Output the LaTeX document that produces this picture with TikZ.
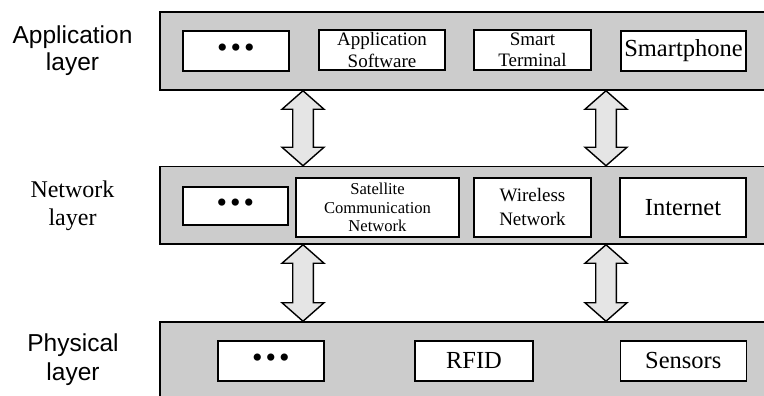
\documentclass[tikz,border=0pt]{standalone}
\usepackage{fontspec}
\setmainfont{Liberation Serif}
\newfontfamily\arialf{Liberation Sans}
\usetikzlibrary{calc,shadows}
\tikzset{
  layerbox/.style={draw=black, line width=1.5pt, fill=black!20, minimum height=78pt, inner sep=0pt},
  itembox/.style={draw=black, line width=1.3pt, fill=white, inner sep=0pt, align=center,
    drop shadow={shadow xshift=0.9pt, shadow yshift=-0.9pt, fill=black, opacity=1}},
  bigtext/.style={font=\fontsize{24.5}{27}\selectfont},
  midtext/.style={font=\fontsize{19}{21.5}\selectfont},
  smalltext/.style={font=\fontsize{16.6}{18.5}\selectfont},
  dotstext/.style={font=\fontsize{30}{30}\selectfont},
  sidelabel/.style={align=center, inner sep=0pt},
  bigarrow/.style={draw=black, line width=1.4pt, fill=black!10, line join=miter}
}
\newcommand\threedots{\textbullet\hspace{3pt}\textbullet\hspace{3pt}\textbullet}
\newcommand\blockarrow[2]{%
  \path (#1) coordinate (tA) (#2) coordinate (tB);
  \draw[bigarrow] (tA) -- ($(tA)+(21,18.5)$) -- ($(tA)+(10.3,18.5)$) -- ($(tB)+(10.3,-18.5)$)
    -- ($(tB)+(21,-18.5)$) -- (tB) -- ($(tB)+(-21,-18.5)$) -- ($(tB)+(-10.3,-18.5)$)
    -- ($(tA)+(-10.3,18.5)$) -- ($(tA)+(-21,18.5)$) -- cycle;}
\begin{document}
\begin{tikzpicture}[x=1pt,y=-1pt]
\useasboundingbox (0,0) rectangle (764,396);
\clip (0,0) rectangle (764,396);
\fill[white] (0,0) rectangle (764,396);
% layer boxes
\node[layerbox, minimum width=610pt] (L1) at (465,51) {};
\node[layerbox, minimum width=610pt, minimum height=77.5pt] (L2) at (465,205.25) {};
\node[layerbox, minimum width=610pt] (L3) at (465,361) {};
% side labels
\node[sidelabel, font=\arialf\fontsize{24.5}{27}\selectfont] (lab1) at (72.5,50.5) {Application\\layer};
\node[sidelabel, font=\fontsize{24}{28}\selectfont] (lab2) at (72.5,205.5) {Network\\layer};
\node[sidelabel, font=\arialf\fontsize{24.5}{28.5}\selectfont] (lab3) at (73,359.5) {Physical\\layer};
% application layer items
\node[itembox, dotstext, minimum width=106pt, minimum height=40pt] (a1) at (236,51) {\threedots};
\node[itembox, midtext, minimum width=126pt, minimum height=40pt] (a2) at (382,50) {Application\\Software};
\node[itembox, midtext, minimum width=117pt, minimum height=40pt] (a3) at (532.5,50) {Smart\\Terminal};
\node[itembox, bigtext, minimum width=125pt, minimum height=40pt] (a4) at (683.5,51) {Smartphone};
% network layer items
\node[itembox, dotstext, minimum width=105pt, minimum height=38pt] (n1) at (235.5,206) {\threedots};
\node[itembox, smalltext, minimum width=163pt, minimum height=59pt] (n2) at (377.5,207.5) {Satellite\\Communication\\Network};
\node[itembox, font=\fontsize{19}{24}\selectfont, minimum width=117pt, minimum height=59pt] (n3) at (532.5,207.5) {Wireless\\Network};
\node[itembox, bigtext, minimum width=126pt, minimum height=59pt] (n4) at (683,207.5) {Internet};
% physical layer items
\node[itembox, dotstext, minimum width=106pt, minimum height=40pt] (p1) at (271,361) {\threedots};
\node[itembox, bigtext, minimum width=118pt, minimum height=40pt] (p2) at (474,361) {RFID};
\node[itembox, bigtext, minimum width=126pt, minimum height=40pt] (p3) at (683.3,361) {Sensors};
% arrows
\coordinate (ax1) at (303,0);
\coordinate (ax2) at (606,0);
\blockarrow{L1.south -| ax1}{L2.north -| ax1}
\blockarrow{L1.south -| ax2}{L2.north -| ax2}
\blockarrow{L2.south -| ax1}{L3.north -| ax1}
\blockarrow{L2.south -| ax2}{L3.north -| ax2}
\end{tikzpicture}
\end{document}
